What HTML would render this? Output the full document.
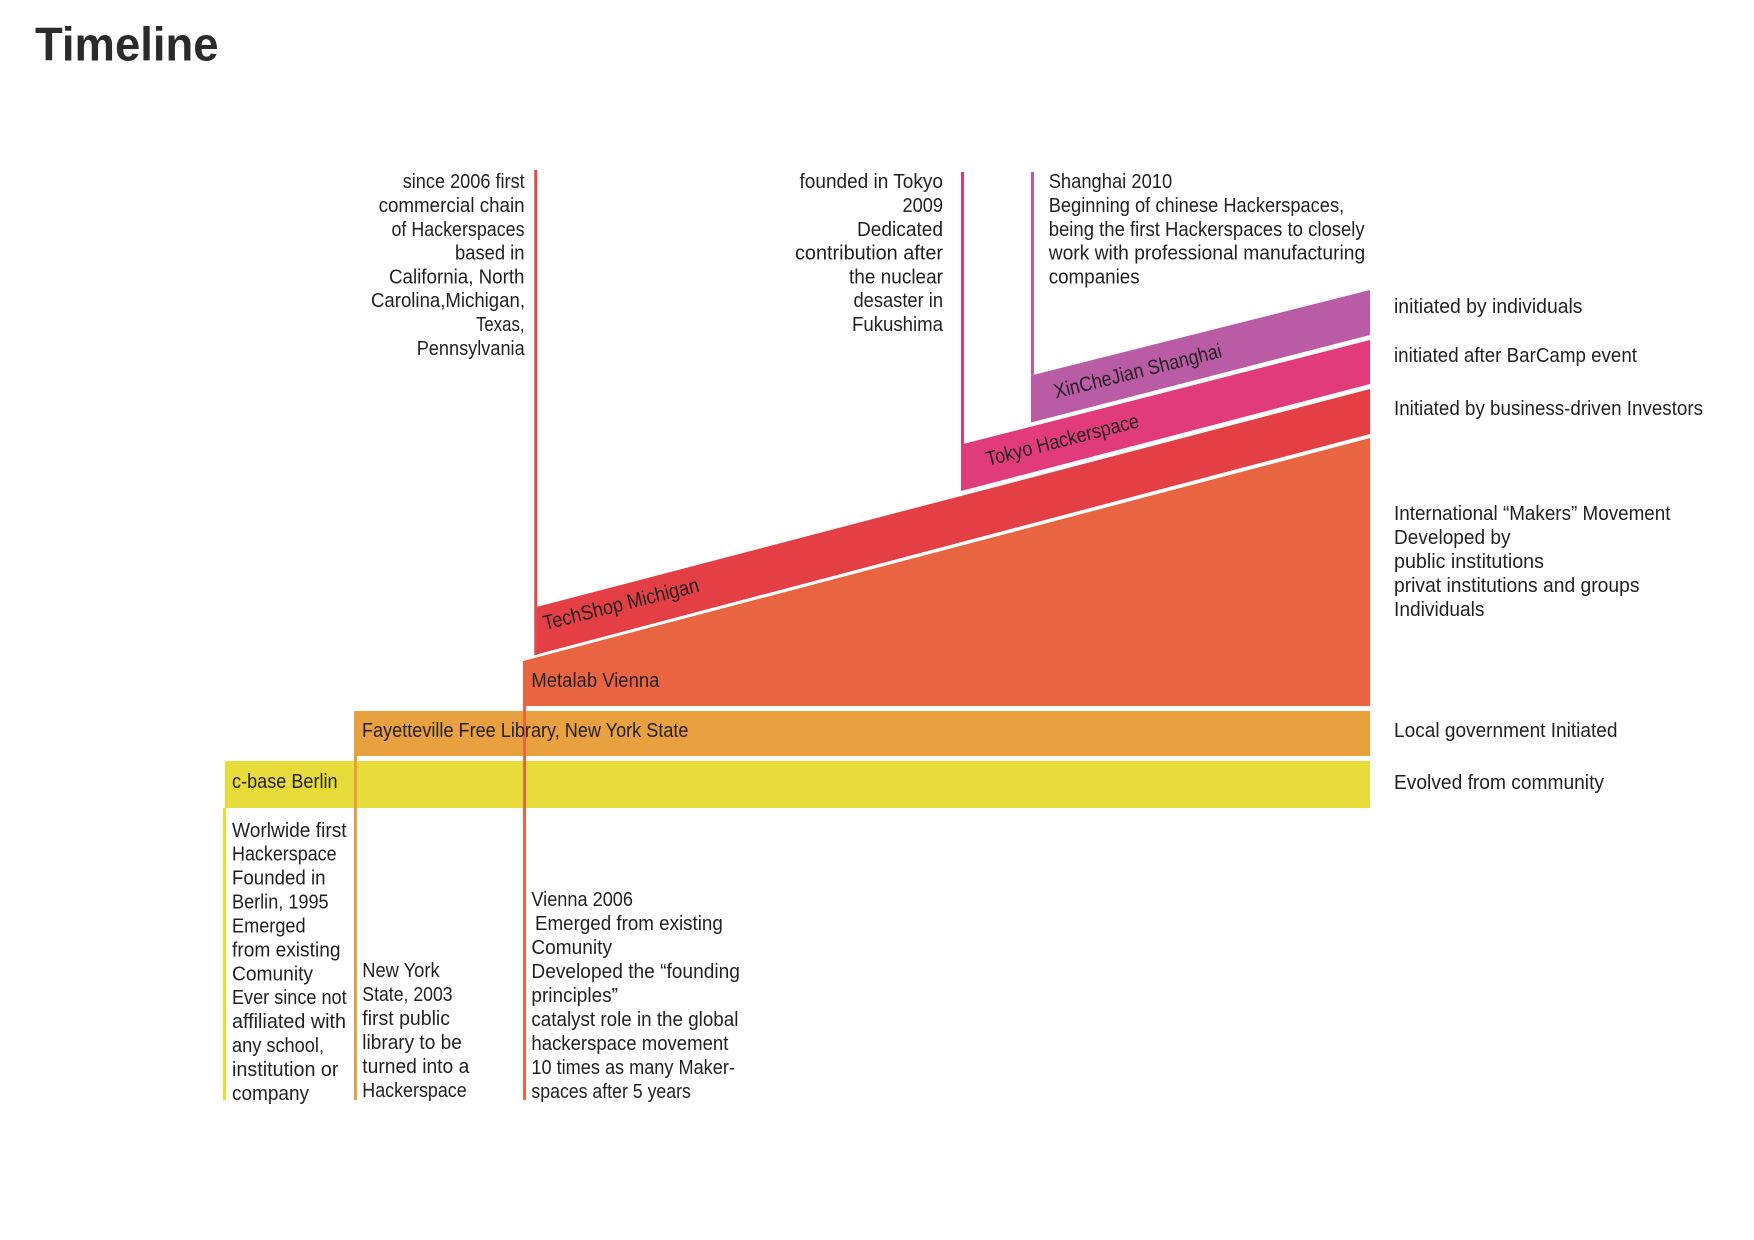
<!DOCTYPE html>
<html lang="en">
<head>
<meta charset="utf-8">
<title>Timeline</title>
<style>
html,body{margin:0;padding:0;background:#fff;width:1754px;height:1240px;overflow:hidden}
svg{display:block}
text{font-family:"Liberation Sans",sans-serif;font-size:20.5px;fill:#231f20}
.title{font-size:47px;font-weight:bold;fill:#2b2b2b}
</style>
</head>
<body>
<svg id="chart" width="1754" height="1240" viewBox="0 0 1754 1240" xmlns="http://www.w3.org/2000/svg">
<rect width="1754" height="1240" fill="#ffffff"/>
<text class="title" x="35" y="60.7" textLength="183.5" lengthAdjust="spacingAndGlyphs">Timeline</text>
<g id="bands"></g>
<g id="stems"></g>

<g>
<text x="232" y="788" textLength="105.6" lengthAdjust="spacingAndGlyphs">c-base Berlin</text>
<text x="362" y="737" textLength="326.5" lengthAdjust="spacingAndGlyphs">Fayetteville Free Library, New York State</text>
<text x="531.4" y="687" textLength="128" lengthAdjust="spacingAndGlyphs">Metalab Vienna</text>
<text transform="translate(545 630) rotate(-14)" textLength="160" lengthAdjust="spacingAndGlyphs">TechShop Michigan</text>
<text transform="translate(988 466) rotate(-14.4)" textLength="157" lengthAdjust="spacingAndGlyphs">Tokyo Hackerspace</text>
<text transform="translate(1056 398.5) rotate(-14)" textLength="172" lengthAdjust="spacingAndGlyphs">XinCheJian Shanghai</text>
</g>

<g>
<text x="402.7" y="188" textLength="122" lengthAdjust="spacingAndGlyphs">since 2006 first</text>
<text x="378.6" y="212" textLength="146" lengthAdjust="spacingAndGlyphs">commercial chain</text>
<text x="391.5" y="236" textLength="133" lengthAdjust="spacingAndGlyphs">of Hackerspaces</text>
<text x="455" y="259.5" textLength="69.5" lengthAdjust="spacingAndGlyphs">based in</text>
<text x="389" y="283.5" textLength="135.5" lengthAdjust="spacingAndGlyphs">California, North</text>
<text x="371" y="307" textLength="154" lengthAdjust="spacingAndGlyphs">Carolina,Michigan,</text>
<text x="476" y="331" textLength="48.5" lengthAdjust="spacingAndGlyphs">Texas,</text>
<text x="416.7" y="355" textLength="108" lengthAdjust="spacingAndGlyphs">Pennsylvania</text>
</g>

<g>
<text x="799.5" y="188" textLength="143.5" lengthAdjust="spacingAndGlyphs">founded in Tokyo</text>
<text x="902.5" y="212" textLength="40.5" lengthAdjust="spacingAndGlyphs">2009</text>
<text x="857" y="236" textLength="86" lengthAdjust="spacingAndGlyphs">Dedicated</text>
<text x="795" y="259.5" textLength="148" lengthAdjust="spacingAndGlyphs">contribution after</text>
<text x="849" y="283.5" textLength="94" lengthAdjust="spacingAndGlyphs">the nuclear</text>
<text x="853.5" y="307" textLength="89.5" lengthAdjust="spacingAndGlyphs">desaster in</text>
<text x="852" y="331" textLength="91" lengthAdjust="spacingAndGlyphs">Fukushima</text>
</g>

<g>
<text x="1048.7" y="188" textLength="123.5" lengthAdjust="spacingAndGlyphs">Shanghai 2010</text>
<text x="1048.7" y="212" textLength="295.5" lengthAdjust="spacingAndGlyphs">Beginning of chinese Hackerspaces,</text>
<text x="1048.7" y="236" textLength="316" lengthAdjust="spacingAndGlyphs">being the first Hackerspaces to closely</text>
<text x="1048.7" y="259.5" textLength="316.5" lengthAdjust="spacingAndGlyphs">work with professional manufacturing</text>
<text x="1048.7" y="283.5" textLength="91" lengthAdjust="spacingAndGlyphs">companies</text>
</g>

<g>
<text x="1394" y="313" textLength="188.5" lengthAdjust="spacingAndGlyphs">initiated by individuals</text>
<text x="1394" y="362" textLength="243" lengthAdjust="spacingAndGlyphs">initiated after BarCamp event</text>
<text x="1394" y="415" textLength="309" lengthAdjust="spacingAndGlyphs">Initiated by business-driven Investors</text>
<text x="1394" y="520" textLength="276.5" lengthAdjust="spacingAndGlyphs">International “Makers” Movement</text>
<text x="1394" y="544" textLength="116.5" lengthAdjust="spacingAndGlyphs">Developed by</text>
<text x="1394" y="568" textLength="150" lengthAdjust="spacingAndGlyphs">public institutions</text>
<text x="1394" y="592" textLength="245.5" lengthAdjust="spacingAndGlyphs">privat institutions and groups</text>
<text x="1394" y="616" textLength="90.5" lengthAdjust="spacingAndGlyphs">Individuals</text>
<text x="1394" y="737" textLength="223.5" lengthAdjust="spacingAndGlyphs">Local government Initiated</text>
<text x="1394" y="789" textLength="210" lengthAdjust="spacingAndGlyphs">Evolved from community</text>
</g>

<g>
<text x="232" y="837" textLength="114.6" lengthAdjust="spacingAndGlyphs">Worlwide first</text>
<text x="232" y="860.3" textLength="104.6" lengthAdjust="spacingAndGlyphs">Hackerspace</text>
<text x="232" y="884.3" textLength="93.5" lengthAdjust="spacingAndGlyphs">Founded in</text>
<text x="232" y="908.3" textLength="96.6" lengthAdjust="spacingAndGlyphs">Berlin, 1995</text>
<text x="232" y="932.3" textLength="73.6" lengthAdjust="spacingAndGlyphs">Emerged</text>
<text x="232" y="956.3" textLength="108.5" lengthAdjust="spacingAndGlyphs">from existing</text>
<text x="232" y="980.3" textLength="81" lengthAdjust="spacingAndGlyphs">Comunity</text>
<text x="232" y="1004" textLength="114.6" lengthAdjust="spacingAndGlyphs">Ever since not</text>
<text x="232" y="1028" textLength="114" lengthAdjust="spacingAndGlyphs">affiliated with</text>
<text x="232" y="1052" textLength="92" lengthAdjust="spacingAndGlyphs">any school,</text>
<text x="232" y="1076" textLength="106.5" lengthAdjust="spacingAndGlyphs">institution or</text>
<text x="232" y="1100" textLength="77" lengthAdjust="spacingAndGlyphs">company</text>
</g>

<g>
<text x="362.3" y="977" textLength="77.3" lengthAdjust="spacingAndGlyphs">New York</text>
<text x="362.3" y="1001" textLength="90.3" lengthAdjust="spacingAndGlyphs">State, 2003</text>
<text x="362.3" y="1025" textLength="87.7" lengthAdjust="spacingAndGlyphs">first public</text>
<text x="362.3" y="1049" textLength="99.5" lengthAdjust="spacingAndGlyphs">library to be</text>
<text x="362.3" y="1073" textLength="107" lengthAdjust="spacingAndGlyphs">turned into a</text>
<text x="362.3" y="1097" textLength="104.4" lengthAdjust="spacingAndGlyphs">Hackerspace</text>
</g>

<g>
<text x="531.4" y="906" textLength="101.6" lengthAdjust="spacingAndGlyphs">Vienna 2006</text>
<text x="535" y="930" textLength="187.8" lengthAdjust="spacingAndGlyphs">Emerged from existing</text>
<text x="531.4" y="954" textLength="80.6" lengthAdjust="spacingAndGlyphs">Comunity</text>
<text x="531.4" y="978" textLength="208.5" lengthAdjust="spacingAndGlyphs">Developed the “founding</text>
<text x="531.4" y="1002" textLength="86.6" lengthAdjust="spacingAndGlyphs">principles”</text>
<text x="531.4" y="1026" textLength="207" lengthAdjust="spacingAndGlyphs">catalyst role in the global</text>
<text x="531.4" y="1050" textLength="197" lengthAdjust="spacingAndGlyphs">hackerspace movement</text>
<text x="531.4" y="1074" textLength="203.5" lengthAdjust="spacingAndGlyphs">10 times as many Maker-</text>
<text x="531.4" y="1098" textLength="159.5" lengthAdjust="spacingAndGlyphs">spaces after 5 years</text>
</g>
</svg>

<script>
/* Data: timeline units along x, height units above the c-base band's lower edge along y. */
const bandNames = ['cbase-berlin', 'fayetteville-library', 'metalab-vienna', 'techshop-michigan', 'tokyo-hackerspace', 'xinchejian-shanghai'];
const bandColors = ['#e8dc3a', '#e9a03f', '#e96541', '#e43f45', '#e23b7b', '#b95ca5'];
const bandStarts = [0, 129, 298, 309.5, 736, 806];
const timelineEnd = 1145;
const startLower = [0, 52, 102, 153, 317, 385.5];
const startUpper = [47, 97, 147, 200.5, 363.5, 432.5];
const endLower = [0, 52, 102, 374, 424, 473];
const endUpper = [47, 97, 370, 419, 468, 518];
const stemPositions = [-0.5, 130.5, 299.5, 310.8, 737.5, 807.5];
const stemTops = [0, 97, 147, 638, 636, 636];
const stemBottoms = [-292, -292, -292, 153, 363, 433];
const stemColors = ['#e8dc3a', '#e9a03f', '#e96541', '#e0474c', '#dc3a78', '#b95ca5'];

function xAxis(v) { return 225 + v; }
function yAxis(v) { return 808 - v; }

const svgNS = 'http://www.w3.org/2000/svg';
const bandLayer = document.getElementById('bands');
const stemLayer = document.getElementById('stems');

bandNames.forEach(function (name, i) {
  const poly = document.createElementNS(svgNS, 'polygon');
  
  
  const x0 = xAxis(bandStarts[i]);
  const x1 = xAxis(timelineEnd);
  poly.setAttribute('points',
    x0 + ',' + yAxis(startLower[i]) + ' ' +
    x0 + ',' + yAxis(startUpper[i]) + ' ' +
    x1 + ',' + yAxis(endUpper[i]) + ' ' +
    x1 + ',' + yAxis(endLower[i]));
  poly.setAttribute('fill', bandColors[i]);
  bandLayer.appendChild(poly);
});

bandNames.forEach(function (name, i) {
  const stem = document.createElementNS(svgNS, 'line');
  
  
  stem.setAttribute('x1', xAxis(stemPositions[i]));
  stem.setAttribute('x2', xAxis(stemPositions[i]));
  stem.setAttribute('y1', yAxis(stemTops[i]));
  stem.setAttribute('y2', yAxis(stemBottoms[i]));
  stem.setAttribute('stroke', stemColors[i]);
  stem.setAttribute('stroke-width', 3);
  stemLayer.appendChild(stem);
});
</script>
</body>
</html>
